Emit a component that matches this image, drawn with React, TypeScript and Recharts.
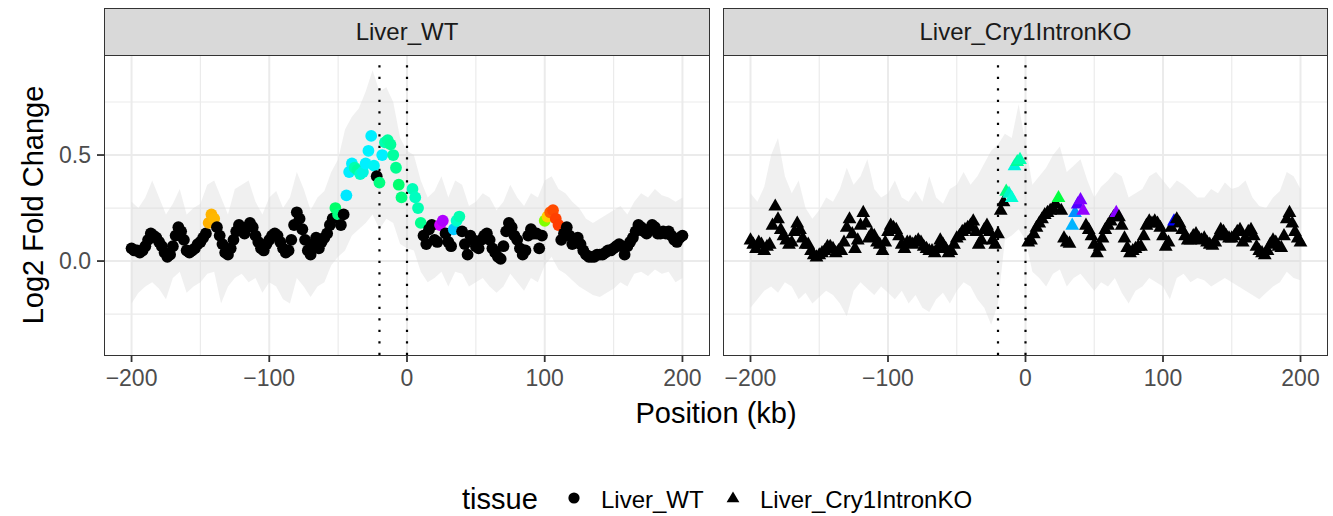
import React from "react";
import {
  ComposedChart,
  Area,
  Scatter,
  XAxis,
  YAxis,
  CartesianGrid,
  ReferenceLine,
} from "recharts";

// positions run from -200 kb to 200 kb
const POS_START = -200;
const POS_STEP = 2;
const BAND_STEP = 5;

// Log2 fold change, Liver_WT (null = no probe)
const WT_LFC = [
  0.06, 0.05, 0.05, 0.04, 0.05, 0.07, 0.1, 0.13, 0.12, 0.11,
  0.09, 0.07, 0.04, 0.02, 0.03, 0.07, 0.12, 0.16, 0.14, 0.1,
  0.05, 0.04, 0.05, 0.06, 0.08, 0.09, 0.11, 0.13, 0.18, 0.22,
  0.2, 0.16, 0.12, 0.08, 0.04, 0.03, 0.06, 0.1, 0.14, 0.17,
  0.15, 0.13, 0.16, 0.18, 0.16, 0.12, 0.09, 0.06, 0.05, 0.08,
  0.1, 0.12, 0.13, 0.12, 0.09, 0.06, 0.04, 0.05, 0.1, 0.17,
  0.23, 0.2, 0.15, 0.1, 0.05, 0.03, 0.08, 0.11, 0.06, 0.09,
  0.11, 0.13, 0.17, 0.2, 0.25, 0.22, 0.17, 0.22, 0.31, 0.42,
  0.46, 0.44, 0.43, 0.41, 0.42, 0.46, 0.52, 0.59, 0.45, 0.4,
  0.37, 0.5, 0.56, 0.57, 0.55, 0.5, 0.44, 0.36, 0.3, null,
  null, null, 0.34, 0.3, 0.25, 0.18, 0.12, 0.08, 0.15, 0.17,
  0.1, 0.09, 0.17, 0.19, 0.13, 0.09, 0.07, 0.15, 0.19, 0.21,
  0.14, 0.08, 0.03, 0.12, 0.1, 0.07, 0.06, 0.1, 0.12, 0.13,
  0.1, 0.06, 0.04, 0.02, 0.01, 0.07, 0.14, 0.18, 0.16, 0.12,
  0.1, 0.06, 0.03, 0.05, 0.12, 0.15, 0.13, 0.13, 0.06, 0.12,
  0.19, 0.21, 0.23, 0.24, 0.2, 0.17, 0.1, 0.13, 0.16, 0.12,
  0.08, 0.1, 0.11, 0.08, 0.05, 0.03, 0.02, 0.02, 0.02, 0.03,
  0.03, 0.03, 0.04, 0.05, 0.05, 0.06, 0.07, 0.08, 0.07, 0.03,
  0.07, 0.09, 0.11, 0.14, 0.17, 0.16, 0.14, 0.13, 0.15, 0.17,
  0.16, 0.13, 0.13, 0.14, 0.13, 0.14, 0.12, 0.1, 0.09, 0.11,
  0.12,
];

// Log2 fold change, Liver_Cry1IntronKO
const KO_LFC = [
  0.1, 0.08, 0.06, 0.09, 0.08, 0.05, 0.07, 0.08, 0.17, 0.26,
  0.2, 0.15, 0.12, 0.1, 0.08, 0.09, 0.14, 0.18, 0.15, 0.11,
  0.08, 0.08, 0.05, 0.03, 0.02, 0.03, 0.04, 0.05, 0.07, 0.07,
  0.06, 0.04, 0.05, 0.05, 0.09, 0.16, 0.2, 0.13, 0.06, 0.1,
  0.17, 0.23, 0.18, 0.11, 0.13, 0.12, 0.09, 0.08, 0.05, 0.09,
  0.14, 0.17, 0.16, 0.15, 0.12, 0.08, 0.06, 0.09, 0.09, 0.08,
  0.09, 0.1, 0.09, 0.07, 0.06, 0.05, 0.05, 0.04, 0.06, 0.1,
  0.08, 0.06, 0.04, 0.05, 0.08, 0.11, 0.12, 0.14, 0.15, 0.16,
  0.17, 0.19, 0.14, 0.08, 0.1, 0.15, 0.17, 0.14, 0.1, 0.08,
  0.13, 0.24, 0.28, 0.33, 0.32, 0.3, 0.45, 0.47, 0.48, null,
  null, 0.09, 0.1, 0.13, 0.16, 0.18, 0.2, 0.22, 0.23, 0.24,
  0.25, 0.27, 0.3, 0.24, 0.11, 0.09, 0.085, 0.17, 0.23, 0.27,
  0.29, 0.24, 0.17, 0.15, 0.12, 0.08, 0.04, 0.07, 0.11, 0.15,
  0.17, 0.19, 0.21, 0.23, 0.21, 0.17, 0.11, 0.065, 0.04, 0.05,
  0.06, 0.07, 0.07, 0.12, 0.17, 0.19, 0.18, 0.19, 0.18, 0.16,
  0.12, 0.07, 0.09, 0.16, 0.19, 0.2, 0.18, 0.15, 0.12, 0.1,
  0.1, 0.12, 0.13, 0.11, 0.1, 0.11, 0.09, 0.08, 0.075, 0.09,
  0.12, 0.15, 0.14, 0.12, 0.11, 0.11, 0.12, 0.14, 0.15, 0.09,
  0.11, 0.14, 0.15, 0.12, 0.07, 0.05, 0.04, 0.03, 0.05, 0.08,
  0.1, 0.09, 0.07, 0.065, 0.12, 0.2, 0.23, 0.18, 0.14, 0.11,
  0.09,
];

// confidence ribbon, every 5 kb
const WT_UPPER = [
  0.28, 0.25, 0.3, 0.38, 0.3, 0.22, 0.27, 0.34, 0.22, 0.25,
  0.27, 0.36, 0.38, 0.3, 0.22, 0.34, 0.36, 0.38, 0.28, 0.22,
  0.3, 0.33, 0.25, 0.3, 0.42, 0.34, 0.24, 0.3, 0.33, 0.42,
  0.48, 0.62, 0.68, 0.72, 0.8, 0.9, 0.8, 0.82, 0.75, 0.58,
  0.52, 0.5, 0.38, 0.3, 0.33, 0.4, 0.3, 0.38, 0.36, 0.26,
  0.28, 0.32, 0.3, 0.24, 0.28, 0.36, 0.3, 0.26, 0.32, 0.3,
  0.38, 0.4, 0.34, 0.32, 0.28, 0.25, 0.2, 0.18, 0.2, 0.22,
  0.24, 0.26, 0.22, 0.28, 0.32, 0.3, 0.34, 0.31, 0.3, 0.28,
  0.3,
];
const WT_LOWER = [
  -0.2, -0.15, -0.12, -0.1, -0.13, -0.18, -0.08, -0.05, -0.15, -0.12,
  -0.1, -0.06, -0.05, -0.2, -0.12, -0.08, -0.06, -0.1, -0.08, -0.15,
  -0.1, -0.12, -0.18, -0.2, -0.08, -0.12, -0.17, -0.12, -0.1, -0.02,
  0.02, 0.05, 0.12, 0.15, 0.18, 0.22, 0.15, 0.2, 0.18, 0.08,
  0.06, 0.05, -0.05, -0.1, -0.08, -0.05, -0.12, -0.05, -0.06, -0.12,
  -0.1, -0.08, -0.12, -0.15, -0.12, -0.06, -0.1, -0.14, -0.08, -0.1,
  -0.02, 0.02, -0.04, -0.06, -0.09, -0.12, -0.14, -0.16, -0.17, -0.15,
  -0.13, -0.1, -0.12, -0.06, -0.05, -0.07, -0.04, -0.06, -0.05, -0.1,
  -0.08,
];
const KO_UPPER = [
  0.32, 0.28, 0.35, 0.5, 0.58, 0.4, 0.32, 0.38, 0.25, 0.2,
  0.24, 0.3, 0.28, 0.34, 0.44, 0.36, 0.4, 0.48, 0.34, 0.3,
  0.32, 0.38, 0.3, 0.28, 0.33, 0.28, 0.4, 0.3, 0.27, 0.34,
  0.36, 0.42, 0.36, 0.4, 0.46, 0.52, 0.55, 0.6, 0.58, 0.74,
  0.55, 0.36, 0.4, 0.44, 0.5, 0.54, 0.42, 0.45, 0.48, 0.38,
  0.3, 0.35, 0.38, 0.42, 0.4, 0.3, 0.32, 0.34, 0.4, 0.42,
  0.38, 0.34, 0.38, 0.36, 0.33, 0.3, 0.3, 0.34, 0.32, 0.37,
  0.34, 0.35, 0.38, 0.3, 0.26, 0.25, 0.3, 0.33, 0.42, 0.4,
  0.34,
];
const KO_LOWER = [
  -0.22, -0.18, -0.14, -0.12, -0.15, -0.1, -0.12, -0.18, -0.15, -0.2,
  -0.17, -0.14, -0.16, -0.2, -0.26, -0.14, -0.1, -0.13, -0.16, -0.12,
  -0.15, -0.18, -0.14, -0.2, -0.16, -0.22, -0.24, -0.18, -0.15, -0.2,
  -0.14, -0.1, -0.12, -0.18, -0.22, -0.3, -0.2, 0.1, 0.12, 0.15,
  0.1, -0.05, -0.08, -0.12, -0.06, -0.04, -0.12, -0.08, -0.06, -0.1,
  -0.14, -0.1, -0.12, -0.08, -0.15, -0.2, -0.14, -0.12, -0.08, -0.1,
  -0.12, -0.18, -0.08, -0.06, -0.1, -0.08, -0.09, -0.12, -0.1, -0.08,
  -0.1, -0.12, -0.14, -0.16, -0.18, -0.15, -0.12, -0.1, -0.05, -0.08,
  -0.09,
];

// points highlighted by colour (position in kb -> colour)
const WT_COLORS: Record<number, string> = {
  [-144]: "#ffb000", [-142]: "#ffb400", [-140]: "#ffb800",
  [-52]: "#00ff6a", [-50]: "#00ff80",
  [-44]: "#00e8ff", [-42]: "#00eeff", [-40]: "#00f0ff", [-38]: "#00ffb0",
  [-36]: "#00ffa0", [-34]: "#00ffc8", [-32]: "#00f5e0", [-30]: "#00f0ff",
  [-28]: "#00f2ff", [-26]: "#00eeff", [-24]: "#00f5f5",
  [-20]: "#00ff80", [-18]: "#00f0ff", [-16]: "#00ffb0", [-14]: "#00ffa0",
  [-12]: "#00ff9a", [-10]: "#00ffa0", [-8]: "#00ff90", [-6]: "#00ff70",
  [-4]: "#00ff80",
  4: "#00ffb8", 6: "#00ffc0", 8: "#00ffb0", 10: "#00ff90",
  24: "#cc00ff", 26: "#b000ff",
  34: "#00c8ff", 36: "#00ffc8", 38: "#00ffb0",
  100: "#80ff00", 102: "#ffd000", 104: "#ff6000", 106: "#ff4a00",
  108: "#ff4000", 110: "#ff3c00",
};
const KO_COLORS: Record<number, string> = {
  [-14]: "#00ff80", [-12]: "#00f5c8", [-10]: "#00ffd5", [-8]: "#00f5e0",
  [-6]: "#00ff9a", [-4]: "#00ffb0",
  24: "#00ff40",
  34: "#00b4ff", 36: "#0090ff", 38: "#5000ff", 40: "#7a00ff", 42: "#9400ff",
  66: "#8a00ff",
  108: "#0000ff",
};

const X_TICKS = [-200, -100, 0, 100, 200];
const X_MINOR = [-150, -50, 50, 150];
const Y_TICKS = [0, 0.5];
const Y_MINOR = [-0.25, 0.25, 0.75];
const MARKERS = [-20, 0];
const X_DOMAIN = [-220, 220];
const Y_DOMAIN = [-0.443, 0.967];

const FONT = "'Liberation Sans', Arial, Helvetica, sans-serif";

const toPoints = (values: (number | null)[], colors: Record<number, string>) =>
  values
    .map((v, i) => {
      const pos = POS_START + i * POS_STEP;
      return { pos, lfc: v, color: colors[pos] ?? "#000000" };
    })
    .filter((d) => d.lfc !== null);

const toBand = (lower: number[], upper: number[]) =>
  lower.map((lo, i) => ({ pos: POS_START + i * BAND_STEP, band: [lo, upper[i]] }));

const fmtX = (v: number) => (v < 0 ? `\u2212${Math.abs(v)}` : String(v));

const Dot = (p: any) => (
  <circle cx={p.cx} cy={p.cy} r={5.9} fill={p.payload.color} />
);

const Tri = (p: any) => {
  const { cx, cy } = p;
  const s = 7.5;
  return (
    <polygon
      points={`${cx},${cy - s} ${cx - s * 0.92},${cy + s * 0.62} ${cx + s * 0.92},${cy + s * 0.62}`}
      fill={p.payload.color}
    />
  );
};

interface PanelProps {
  left: number;
  width: number;
  marginLeft: number;
  marginRight: number;
  showY: boolean;
  band: { pos: number; band: number[] }[];
  points: { pos: number; lfc: number | null; color: string }[];
  shape: (p: any) => React.ReactElement;
}

const Panel: React.FC<PanelProps> = ({ left, width, marginLeft, marginRight, showY, band, points, shape }) => (
  <div style={{ position: "absolute", left, top: 0 }}>
    <ComposedChart
      width={width}
      height={400}
      data={band}
      margin={{ top: 56, right: marginRight, left: marginLeft, bottom: 10 }}
    >
      <CartesianGrid stroke="#ebebeb" strokeWidth={1.2} horizontalValues={Y_MINOR} verticalValues={X_MINOR} />
      <CartesianGrid stroke="#ebebeb" strokeWidth={2} horizontalValues={Y_TICKS} verticalValues={X_TICKS} />
      <XAxis
        type="number"
        dataKey="pos"
        domain={X_DOMAIN}
        allowDataOverflow
        ticks={X_TICKS}
        tickFormatter={fmtX}
        axisLine={false}
        tickLine={{ stroke: "#333333", strokeWidth: 1.8 }}
        tickSize={7}
        tickMargin={8}
        height={35}
        tick={{ fill: "#4d4d4d", fontSize: 23, fontFamily: FONT }}
      />
      <YAxis
        type="number"
        domain={Y_DOMAIN}
        allowDataOverflow
        ticks={Y_TICKS}
        tickFormatter={(v: number) => v.toFixed(1)}
        axisLine={false}
        tickLine={{ stroke: "#333333", strokeWidth: 1.8 }}
        tickSize={7}
        tickMargin={6}
        width={60}
        hide={!showY}
        tick={{ fill: "#4d4d4d", fontSize: 23, fontFamily: FONT }}
      />
      <Area
        type="linear"
        dataKey="band"
        stroke="none"
        fill="#d9d9d9"
        fillOpacity={0.4}
        isAnimationActive={false}
      />
      {MARKERS.map((m) => (
        <ReferenceLine key={m} x={m} stroke="#000000" strokeWidth={2.2} strokeDasharray="2.2 9.3" />
      ))}
      <Scatter data={points} dataKey="lfc" shape={shape} isAnimationActive={false} />
    </ComposedChart>
  </div>
);

const Strip: React.FC<{ left: number; width: number; label: string }> = ({ left, width, label }) => (
  <>
    <div
      style={{
        position: "absolute",
        left,
        top: 8,
        width,
        height: 48,
        boxSizing: "border-box",
        background: "#d9d9d9",
        border: "1.8px solid #333333",
        color: "#1a1a1a",
        fontSize: 24,
        fontFamily: FONT,
        display: "flex",
        alignItems: "center",
        justifyContent: "center",
      }}
    >
      {label}
    </div>
    <div
      style={{
        position: "absolute",
        left,
        top: 55,
        width,
        height: 301,
        boxSizing: "border-box",
        border: "1.8px solid #333333",
        pointerEvents: "none",
      }}
    />
  </>
);

export default function App() {
  const wtPoints = toPoints(WT_LFC, WT_COLORS);
  const koPoints = toPoints(KO_LFC, KO_COLORS);
  const wtBand = toBand(WT_LOWER, WT_UPPER);
  const koBand = toBand(KO_LOWER, KO_UPPER);

  return (
    <div
      style={{
        position: "absolute",
        left: 0,
        top: 0,
        width: 1333,
        height: 516,
        background: "#ffffff",
        fontFamily: FONT,
        overflow: "hidden",
      }}
    >
      <Panel left={0} width={720} marginLeft={44} marginRight={10} showY band={wtBand} points={wtPoints} shape={Dot} />
      <Panel left={663} width={670} marginLeft={60} marginRight={5} showY={false} band={koBand} points={koPoints} shape={Tri} />
      <Strip left={104} width={606} label="Liver_WT" />
      <Strip left={723} width={605} label="Liver_Cry1IntronKO" />
      <svg width={1333} height={516} style={{ position: "absolute", left: 0, top: 0, pointerEvents: "none" }}>
        <text
          transform="translate(33,205) rotate(-90)"
          textAnchor="middle"
          dominantBaseline="central"
          fontSize={29}
          fill="#000000"
          fontFamily={FONT}
        >
          Log2 Fold Change
        </text>
        <text x={716} y={413} textAnchor="middle" dominantBaseline="central" fontSize={29} fill="#000000" fontFamily={FONT}>
          Position (kb)
        </text>
        <text x={462} y={499} dominantBaseline="central" fontSize={29} fill="#000000" fontFamily={FONT}>
          tissue
        </text>
        <circle cx={574} cy={498} r={5.6} fill="#000000" />
        <text x={601} y={499} dominantBaseline="central" fontSize={24} fill="#000000" fontFamily={FONT}>
          Liver_WT
        </text>
        <polygon points="733,491.5 726.6,502.3 739.4,502.3" fill="#000000" />
        <text x={760} y={499} dominantBaseline="central" fontSize={24} fill="#000000" fontFamily={FONT}>
          Liver_Cry1IntronKO
        </text>
      </svg>
    </div>
  );
}
